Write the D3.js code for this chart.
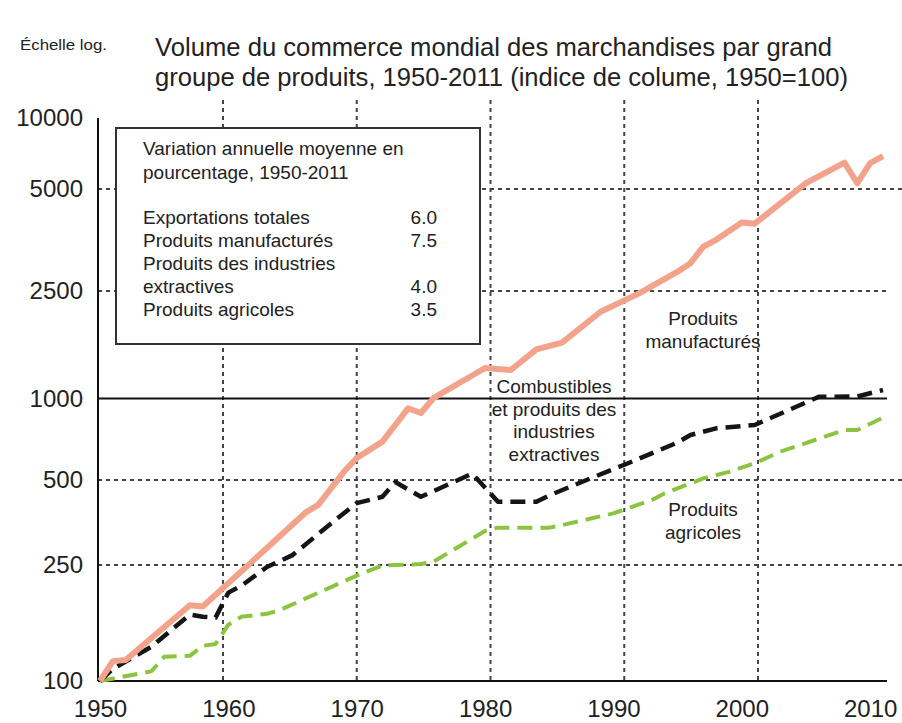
<!DOCTYPE html>
<html lang="fr">
<head>
<meta charset="UTF-8">
<title>Volume du commerce mondial des marchandises</title>
<script src="https://d3js.org/d3.v7.min.js"></script>
<style>
  body { margin: 0; background: #fff; }
  svg { display: block; font-family: "Liberation Sans", Arial, sans-serif; fill: #222; }
</style>
</head>
<body>
<svg id="chart" width="902" height="723"></svg>
<script>
// indice de volume, 1950=100
const manufYears  = [1950, 1951, 1952, 1957, 1958, 1963, 1966, 1967, 1969, 1970, 1972, 1974, 1975, 1976, 1980, 1982, 1984, 1986, 1989, 1992, 1995, 1996, 1997, 1998, 2000, 2001, 2005, 2008, 2009, 2010, 2011];
const manufValues = [100, 117, 118, 182, 180, 287, 383, 408, 536, 603, 693, 920, 884, 1005, 1297, 1275, 1520, 1610, 2095, 2450, 2850, 3020, 3380, 3540, 3980, 3950, 5290, 6470, 5290, 6440, 6900];

const extrYears  = [1950, 1951, 1954, 1957, 1958, 1959, 1960, 1961, 1963, 1965, 1968, 1970, 1972, 1973, 1975, 1979, 1981, 1984, 1985, 1988, 1991, 1995, 1996, 1998, 2001, 2006, 2009, 2011];
const extrValues = [100, 110, 131, 169, 166, 165, 201, 212, 246, 271, 351, 414, 436, 492, 436, 528, 419, 419, 441, 502, 573, 688, 733, 776, 798, 1015, 1017, 1075];

const agriYears  = [1950, 1954, 1955, 1957, 1958, 1959, 1960, 1961, 1963, 1964, 1970, 1972, 1975, 1976, 1980, 1981, 1985, 1986, 1990, 1993, 1994, 1997, 1999, 2001, 2003, 2008, 2009, 2011];
const agriValues = [100, 108, 121, 122, 132, 134, 156, 166, 170, 175, 230, 249, 252, 257, 330, 339, 339, 346, 381, 425, 449, 507, 536, 576, 636, 765, 765, 850];

const yTicks = [100, 250, 500, 1000, 2500, 5000, 10000];
const yGrid = [250, 500, 2500, 5000];
const xTicks = [1950, 1960, 1970, 1980, 1990, 2000, 2010];
const gridYears = [1960, 1970, 1980, 1990, 2000];

const titleLines = ["Volume du commerce mondial des marchandises par grand",
                    "groupe de produits, 1950-2011 (indice de colume, 1950=100)"];
const boxTitle = ["Variation annuelle moyenne en", "pourcentage, 1950-2011"];
const boxRows = ["Exportations totales", "Produits manufacturés", "Produits des industries", "extractives", "Produits agricoles"];
const boxValues = ["6.0", "7.5", "", "4.0", "3.5"];

const svg = d3.select("#chart");

// axe log irrégulier comme dans l'original
const y = d3.scaleLog()
  .domain([100, 250, 500, 1000, 2500, 5000, 10000])
  .range([681, 565, 480, 398.5, 291, 189, 118]);
const x = d3.scaleLinear().domain([1950, 2011]).range([100, 883]);
// les pointillés verticaux ne tombent pas exactement sur les années
const xGrid = d3.scaleLinear().domain([1960, 2000]).range([223, 758]);

const left = 98, right = 887;

// grille
svg.append("g").selectAll("line").data(gridYears).join("line")
  .attr("x1", d => xGrid(d)).attr("x2", d => xGrid(d))
  .attr("y1", 100).attr("y2", 680)
  .attr("stroke", "#444").attr("stroke-width", 2).attr("stroke-dasharray", "4,4");

svg.append("g").selectAll("line").data(yGrid).join("line")
  .attr("x1", left).attr("x2", d => d === 2500 ? right : 902)
  .attr("y1", d => y(d)).attr("y2", d => y(d))
  .attr("stroke", "#444").attr("stroke-width", 2).attr("stroke-dasharray", "4,4");

svg.append("line")
  .attr("x1", left).attr("x2", right).attr("y1", y(1000)).attr("y2", y(1000))
  .attr("stroke", "#111").attr("stroke-width", 2);

// axes
const yAxis = svg.append("g")
  .attr("transform", `translate(${left},0)`)
  .call(d3.axisLeft(y).tickValues(yTicks).tickFormat(d3.format("d")).tickSize(0).tickPadding(15));
yAxis.select(".domain").attr("stroke", "#111").attr("stroke-width", 2).attr("d", `M0,${y(10000)}V${y(100)}`);
yAxis.selectAll("text").attr("font-size", 24).attr("font-family", "Liberation Sans, Arial, sans-serif").attr("fill", "#222");

const xAxis = svg.append("g")
  .attr("transform", `translate(0,${y(100)})`)
  .call(d3.axisBottom(x).tickValues(xTicks).tickFormat(d3.format("d")).tickSize(0).tickPadding(19));
xAxis.select(".domain").attr("stroke", "#111").attr("stroke-width", 2).attr("d", `M${left},0H${right}`);
xAxis.selectAll("text").attr("font-size", 24).attr("font-family", "Liberation Sans, Arial, sans-serif").attr("fill", "#222");

// encadré
svg.append("rect")
  .attr("x", 116).attr("y", 128).attr("width", 364).attr("height", 216)
  .attr("fill", "#fff").attr("stroke", "#333").attr("stroke-width", 2);

const box = svg.append("g").attr("font-size", 19);
box.selectAll(".bt").data(boxTitle).join("text")
  .attr("x", 143).attr("y", (d, i) => 155 + i * 24).text(d => d);
box.selectAll(".br").data(boxRows).join("text")
  .attr("x", 143).attr("y", (d, i) => 224 + i * 23).text(d => d);
box.selectAll(".bv").data(boxValues).join("text")
  .attr("x", 437).attr("text-anchor", "end")
  .attr("y", (d, i) => 224 + i * 23).text(d => d);

// courbes
const line = d3.line().x(d => x(d[0])).y(d => y(d[1]));

svg.append("path")
  .datum(agriYears.map((yr, i) => [yr, agriValues[i]]))
  .attr("d", line).attr("fill", "none")
  .attr("stroke", "#8cc440").attr("stroke-width", 4).attr("stroke-dasharray", "15,8")
  .attr("stroke-linejoin", "round");

svg.append("path")
  .datum(extrYears.map((yr, i) => [yr, extrValues[i]]))
  .attr("d", line).attr("fill", "none")
  .attr("stroke", "#151515").attr("stroke-width", 4.5).attr("stroke-dasharray", "15,8")
  .attr("stroke-linejoin", "round");

svg.append("path")
  .datum(manufYears.map((yr, i) => [yr, manufValues[i]]))
  .attr("d", line).attr("fill", "none")
  .attr("stroke", "#f3a38b").attr("stroke-width", 6)
  .attr("stroke-linejoin", "round");

// étiquettes des séries
const notes = svg.append("g").attr("font-size", 19).attr("text-anchor", "middle");
notes.append("text").attr("x", 703).attr("y", 325).text("Produits");
notes.append("text").attr("x", 703).attr("y", 348).text("manufacturés");
["Combustibles", "et produits des", "industries", "extractives"].forEach((t, i) => {
  notes.append("text").attr("x", 554).attr("y", 393 + i * 22.5).text(t);
});
notes.append("text").attr("x", 703).attr("y", 516).text("Produits");
notes.append("text").attr("x", 703).attr("y", 539).text("agricoles");

// titre
svg.append("text").attr("x", 20).attr("y", 50).attr("font-size", 15)
  .attr("textLength", 87).attr("lengthAdjust", "spacingAndGlyphs").text("Échelle log.");
svg.selectAll(".title").data(titleLines).join("text")
  .attr("x", 155).attr("y", (d, i) => 56 + i * 30)
  .attr("font-size", 25)
  .attr("textLength", (d, i) => i === 0 ? 677 : 693)
  .attr("lengthAdjust", "spacingAndGlyphs")
  .text(d => d);
</script>
</body>
</html>
